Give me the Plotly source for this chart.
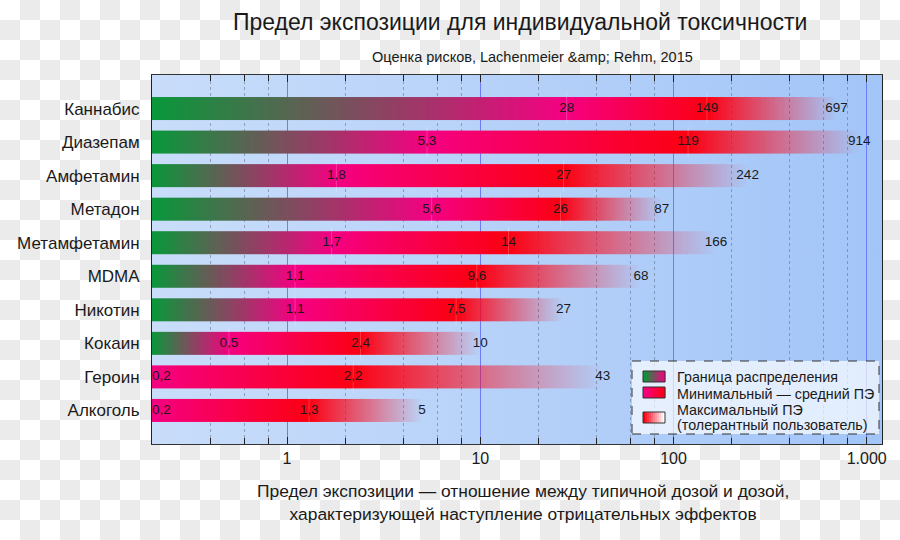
import base64
import numpy as np
import plotly.graph_objects as go

# ---------------- data ----------------
drugs = ["Каннабис", "Диазепам", "Амфетамин", "Метадон", "Метамфетамин",
         "MDMA", "Никотин", "Кокаин", "Героин", "Алкоголь"]
boundary_moe = [28, 5.3, 1.8, 5.6, 1.7, 1.1, 1.1, 0.5, 0.2, 0.2]      # Граница распределения
mean_moe = [149, 119, 27, 26, 14, 9.6, 7.5, 2.4, 2.2, 1.3]           # Минимальный — средний ПЭ
max_moe = [697, 914, 242, 87, 166, 68, 27, 10, 43, 5]                # Максимальный ПЭ
x_tickvals = [1, 10, 100, 1000]
x_ticktext = ["1", "10", "100", "1.000"]
x_minor = [0.4, 0.6, 0.8, 2, 4, 6, 8, 20, 40, 60, 80, 200, 400, 600, 800]
X_MIN, X_MAX = 0.2, 1200

title = "Предел экспозиции для индивидуальной токсичности"
subtitle = "Оценка рисков, Lachenmeier &amp;amp; Rehm, 2015"
xtitle = ("Предел экспозиции — отношение между типичной дозой и дозой,<br>"
          "характеризующей наступление отрицательных эффектов")
legend_lines = ["Граница распределения", "Минимальный — средний ПЭ",
                "Максимальный ПЭ", "(толерантный пользователь)"]

# ---------------- style ----------------
FONT = "Liberation Sans, Arial, sans-serif"
GREEN = (8, 152, 58)
MAGENTA = (245, 0, 130)
RED = (252, 0, 18)
W, H = 900, 540
L, R, T, B = 152, 882, 75, 444
PW, PH = R - L, B - T
BAR_HALF = 0.343


def rgb(c, a=1.0):
    return f"rgba({c[0]},{c[1]},{c[2]},{a})"


def px(x):
    return (x - L) / PW


def py(y):
    return (B - y) / PH


colorscale = [[0, rgb(GREEN)], [1 / 3, rgb(MAGENTA)], [2 / 3, rgb(RED)], [1, rgb(RED, 0)]]

fig = go.Figure()

l0 = np.log10(X_MIN)
for i, (a, b, c) in enumerate(zip(boundary_moe, mean_moe, max_moe)):
    n = 300
    edges = np.logspace(l0, np.log10(c), n + 1)
    lm = np.log10(np.sqrt(edges[:-1] * edges[1:]))
    la, lb, lc = np.log10(a), np.log10(b), np.log10(c)
    d1 = max(la - l0, 1e-9)
    p1 = (lm - l0) / d1
    p2 = 1 + (lm - la) / (lb - la)
    p3 = 2 + (lm - lb) / (lc - lb)
    phase = np.where(lm < la, p1, np.where(lm < lb, p2, p3))
    fig.add_trace(go.Heatmap(
        x=edges, y=[i - BAR_HALF, i + BAR_HALF], z=[phase.tolist()],
        colorscale=colorscale, zmin=0, zmax=3, showscale=False,
        hoverinfo="skip", zsmooth=False))

# faint separators at the boundary values
sep_x, sep_y = [], []
for i, (a, b) in enumerate(zip(boundary_moe, mean_moe)):
    if a > X_MIN:
        sep_x.append(a); sep_y.append(i)
    sep_x.append(b); sep_y.append(i)
fig.add_trace(go.Scatter(
    x=sep_x, y=sep_y, mode="markers", hoverinfo="skip",
    marker=dict(symbol="line-ns", size=23, color="rgba(255,255,255,0.22)",
                line=dict(color="rgba(255,255,255,0.22)", width=1))))


def fmt(v):
    return f"{v:g}".replace(".", ",")


lx, ly, lt, lp = [], [], [], []
for i, vals in enumerate(zip(boundary_moe, mean_moe, max_moe)):
    for v in vals:
        lx.append(v); ly.append(i); lt.append(fmt(v))
        lp.append("middle right" if v <= X_MIN else "middle center")
fig.add_trace(go.Scatter(
    x=lx, y=ly, mode="text", text=lt, textposition=lp, hoverinfo="skip",
    textfont=dict(family=FONT, size=13.5, color="#1a1a1a")))

# ---------------- background images ----------------
checker = ('<svg xmlns="http://www.w3.org/2000/svg" width="900" height="540">'
           '<defs><pattern id="c" width="40" height="40" patternUnits="userSpaceOnUse">'
           '<rect width="40" height="40" fill="#ffffff"/>'
           '<rect x="20" width="20" height="20" fill="#ebebeb"/>'
           '<rect y="20" width="20" height="20" fill="#ebebeb"/></pattern></defs>'
           '<rect width="900" height="540" fill="url(#c)"/></svg>')
grad = ('<svg xmlns="http://www.w3.org/2000/svg" width="100" height="100" preserveAspectRatio="none">'
        '<defs><linearGradient id="g" x1="0" x2="1" y1="0" y2="0">'
        '<stop offset="0" stop-color="#c9ddfa"/><stop offset="1" stop-color="#a2c5f8"/>'
        '</linearGradient></defs><rect width="100" height="100" fill="url(#g)"/></svg>')


def uri(s):
    return "data:image/svg+xml;base64," + base64.b64encode(s.encode()).decode()


images = [
    dict(source=uri(checker), xref="paper", yref="paper", x=-L / PW, y=1 + T / PH,
         sizex=W / PW, sizey=H / PH, xanchor="left", yanchor="top",
         sizing="stretch", layer="below"),
    dict(source=uri(grad), xref="paper", yref="paper", x=0, y=1, sizex=1, sizey=1,
         xanchor="left", yanchor="top", sizing="stretch", layer="below"),
]

# ---------------- legend (custom) ----------------
shapes = [dict(type="rect", xref="paper", yref="paper", x0=px(632), x1=px(879),
               y0=py(434), y1=py(361), line=dict(color="#333", width=1, dash="dash"),
               fillcolor="rgba(255,255,255,0.68)", layer="above")]
sw_specs = [(371, GREEN, MAGENTA), (387, MAGENTA, RED), (412, RED, (255, 255, 255))]
nslices = 11
for (ytop, c0, c1) in sw_specs:
    x0p, x1p = 643, 665
    for k in range(nslices):
        t = k / (nslices - 1)
        col = tuple(int(round(c0[j] + (c1[j] - c0[j]) * t)) for j in range(3))
        xa = x0p + (x1p - x0p) * k / nslices
        xb = x0p + (x1p - x0p) * (k + 1) / nslices
        shapes.append(dict(type="rect", xref="paper", yref="paper", x0=px(xa), x1=px(xb + 0.3),
                           y0=py(ytop + 11), y1=py(ytop), line=dict(width=0),
                           fillcolor=rgb(col), layer="above"))
    shapes.append(dict(type="rect", xref="paper", yref="paper", x0=px(x0p), x1=px(x1p),
                       y0=py(ytop + 11), y1=py(ytop), line=dict(color="#333", width=1),
                       fillcolor="rgba(0,0,0,0)", layer="above"))

annotations = [
    dict(text=title, xref="paper", yref="paper", x=px(520), y=py(22), showarrow=False,
         font=dict(family=FONT, size=23, color="#1a1a1a"), xanchor="center", yanchor="middle"),
    dict(text=subtitle, xref="paper", yref="paper", x=px(532), y=py(57), showarrow=False,
         font=dict(family=FONT, size=14.5, color="#1a1a1a"), xanchor="center", yanchor="middle"),
    dict(text=xtitle, xref="paper", yref="paper", x=px(523), y=py(502), showarrow=False,
         font=dict(family=FONT, size=17.4, color="#1a1a1a"), xanchor="center", yanchor="middle",
         align="center"),
]
for txt, yc in zip(legend_lines, [377, 394, 410, 425]):
    annotations.append(dict(text=txt, xref="paper", yref="paper", x=px(675), y=py(yc),
                            showarrow=False, xanchor="left", yanchor="middle", align="left",
                            font=dict(family=FONT, size=14.3, color="#1a1a1a")))

fig.update_layout(
    width=W, height=H, margin=dict(l=L, r=W - R, t=T, b=H - B, pad=0),
    paper_bgcolor="white", plot_bgcolor="rgba(0,0,0,0)", showlegend=False,
    images=images, shapes=shapes, annotations=annotations,
    font=dict(family=FONT, color="#1a1a1a"),
    xaxis=dict(type="log", range=[np.log10(X_MIN), np.log10(X_MAX)],
               tickvals=x_tickvals, ticktext=x_ticktext, ticks="inside", ticklen=7,
               tickcolor="#222", tickwidth=1, showline=True, linecolor="#333", linewidth=1,
               mirror="ticks", showgrid=True, gridcolor="rgb(110,125,245)", gridwidth=1,
               tickfont=dict(family=FONT, size=16, color="#1a1a1a"), zeroline=False,
               minor=dict(tickvals=x_minor, ticks="inside", ticklen=6, tickcolor="#222",
                          showgrid=True, gridcolor="rgba(95,110,135,0.55)", griddash="dot",
                          gridwidth=1)),
    yaxis=dict(range=[len(drugs), -1], tickvals=list(range(len(drugs))), ticktext=drugs,
               ticks="outside", ticklen=8, tickcolor="rgba(0,0,0,0)", showgrid=False,
               zeroline=False, showline=True, linecolor="#222", linewidth=1, mirror=True,
               tickfont=dict(family=FONT, size=17, color="#1a1a1a")),
)

fig.write_html("out.html", config={"displayModeBar": False},
               post_script="document.body.style.margin='0';")
